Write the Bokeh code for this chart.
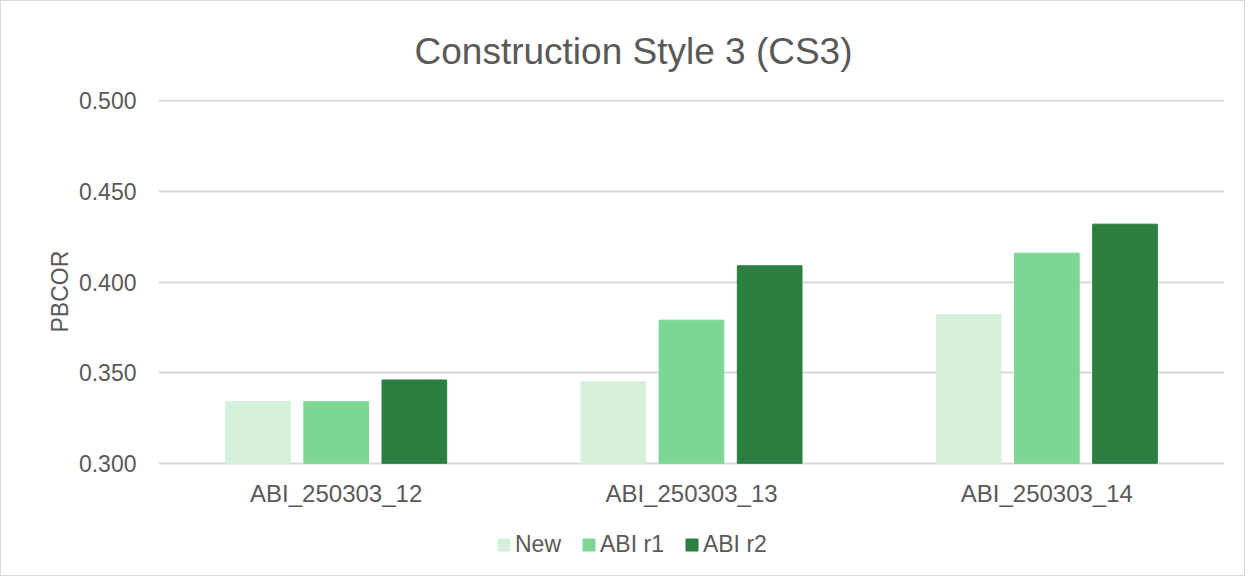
from bokeh.plotting import figure
from bokeh.models import FactorRange, FixedTicker, NumeralTickFormatter, Legend, LegendItem, Title, ColumnDataSource
from bokeh.transform import dodge
from bokeh.core.properties import value
from bokeh.embed import file_html
from bokeh.resources import INLINE

categories = ["ABI_250303_12", "ABI_250303_13", "ABI_250303_14"]
series_names = ["New", "ABI r1", "ABI r2"]
new_vals = [0.334, 0.345, 0.382]
abi_r1_vals = [0.334, 0.379, 0.416]
abi_r2_vals = [0.346, 0.409, 0.432]
y_ticks = [0.300, 0.350, 0.400, 0.450, 0.500]
baseline = 0.300
colors = ["#D5F1DC", "#7CD794", "#2A7F41"]

FONT = "Liberation Sans"
GREY = "#595959"

src = ColumnDataSource(dict(cat=categories, new=new_vals, r1=abi_r1_vals, r2=abi_r2_vals,
                            base=[baseline] * len(categories)))

# frame extends below the baseline to host category labels and legend
p = figure(x_range=FactorRange(*categories, range_padding=0), y_range=(0.2425, 0.5008),
           frame_width=1066, frame_height=468, output_backend="svg", toolbar_location=None,
           x_axis_location=None,
           min_border_left=157, min_border_right=20, min_border_top=80, min_border_bottom=8)

offsets = [-0.22, 0.0, 0.22]
renderers = []
for col, off, c in zip(["new", "r1", "r2"], offsets, colors):
    r = p.vbar(x=dodge("cat", off, range=p.x_range), top=col, bottom="base", width=0.182,
               source=src, fill_color=c, line_color=c)
    renderers.append(r)

# category labels under the baseline
p.text(x="cat", y="base", text="cat", source=src, text_align="center", text_baseline="top",
       y_offset=17, text_font=value(FONT), text_font_size="24px", text_color=GREY)

p.title = Title(text="Construction Style 3 (CS3)", align="left", text_font=FONT,
                text_font_size="37px", text_font_style="normal", text_color=GREY,
                offset=256, standoff=55)

p.yaxis.ticker = FixedTicker(ticks=y_ticks)
p.yaxis.formatter = NumeralTickFormatter(format="0.000")
p.yaxis.axis_line_color = None
p.yaxis.major_label_standoff = 16
p.yaxis.major_tick_line_color = None
p.yaxis.minor_tick_line_color = None
p.yaxis.major_label_text_font = FONT
p.yaxis.major_label_text_color = GREY
p.yaxis.major_label_text_font_size = "23px"

ylabel = Title(text="PBCOR", align="left", offset=235, standoff=6, text_font=FONT,
               text_font_size="23px", text_font_style="normal", text_color=GREY)
p.add_layout(ylabel, "left")

p.xgrid.grid_line_color = None
p.ygrid.grid_line_color = "#D9D9D9"
p.ygrid.grid_line_width = 2
p.ygrid.ticker = FixedTicker(ticks=y_ticks)
p.outline_line_color = None

legend = Legend(items=[LegendItem(label=n, renderers=[r]) for n, r in zip(series_names, renderers)],
                orientation="horizontal", location=(338, 9),
                label_text_font=FONT, label_text_font_size="23px", label_text_color=GREY,
                glyph_width=15, glyph_height=15, label_standoff=4, spacing=20,
                border_line_color=None, background_fill_alpha=0, padding=0, margin=0)
p.add_layout(legend)

p.styles = {"border": "1.5px solid #D9D9D9"}

open("out.html", "w").write(file_html(p, INLINE))
